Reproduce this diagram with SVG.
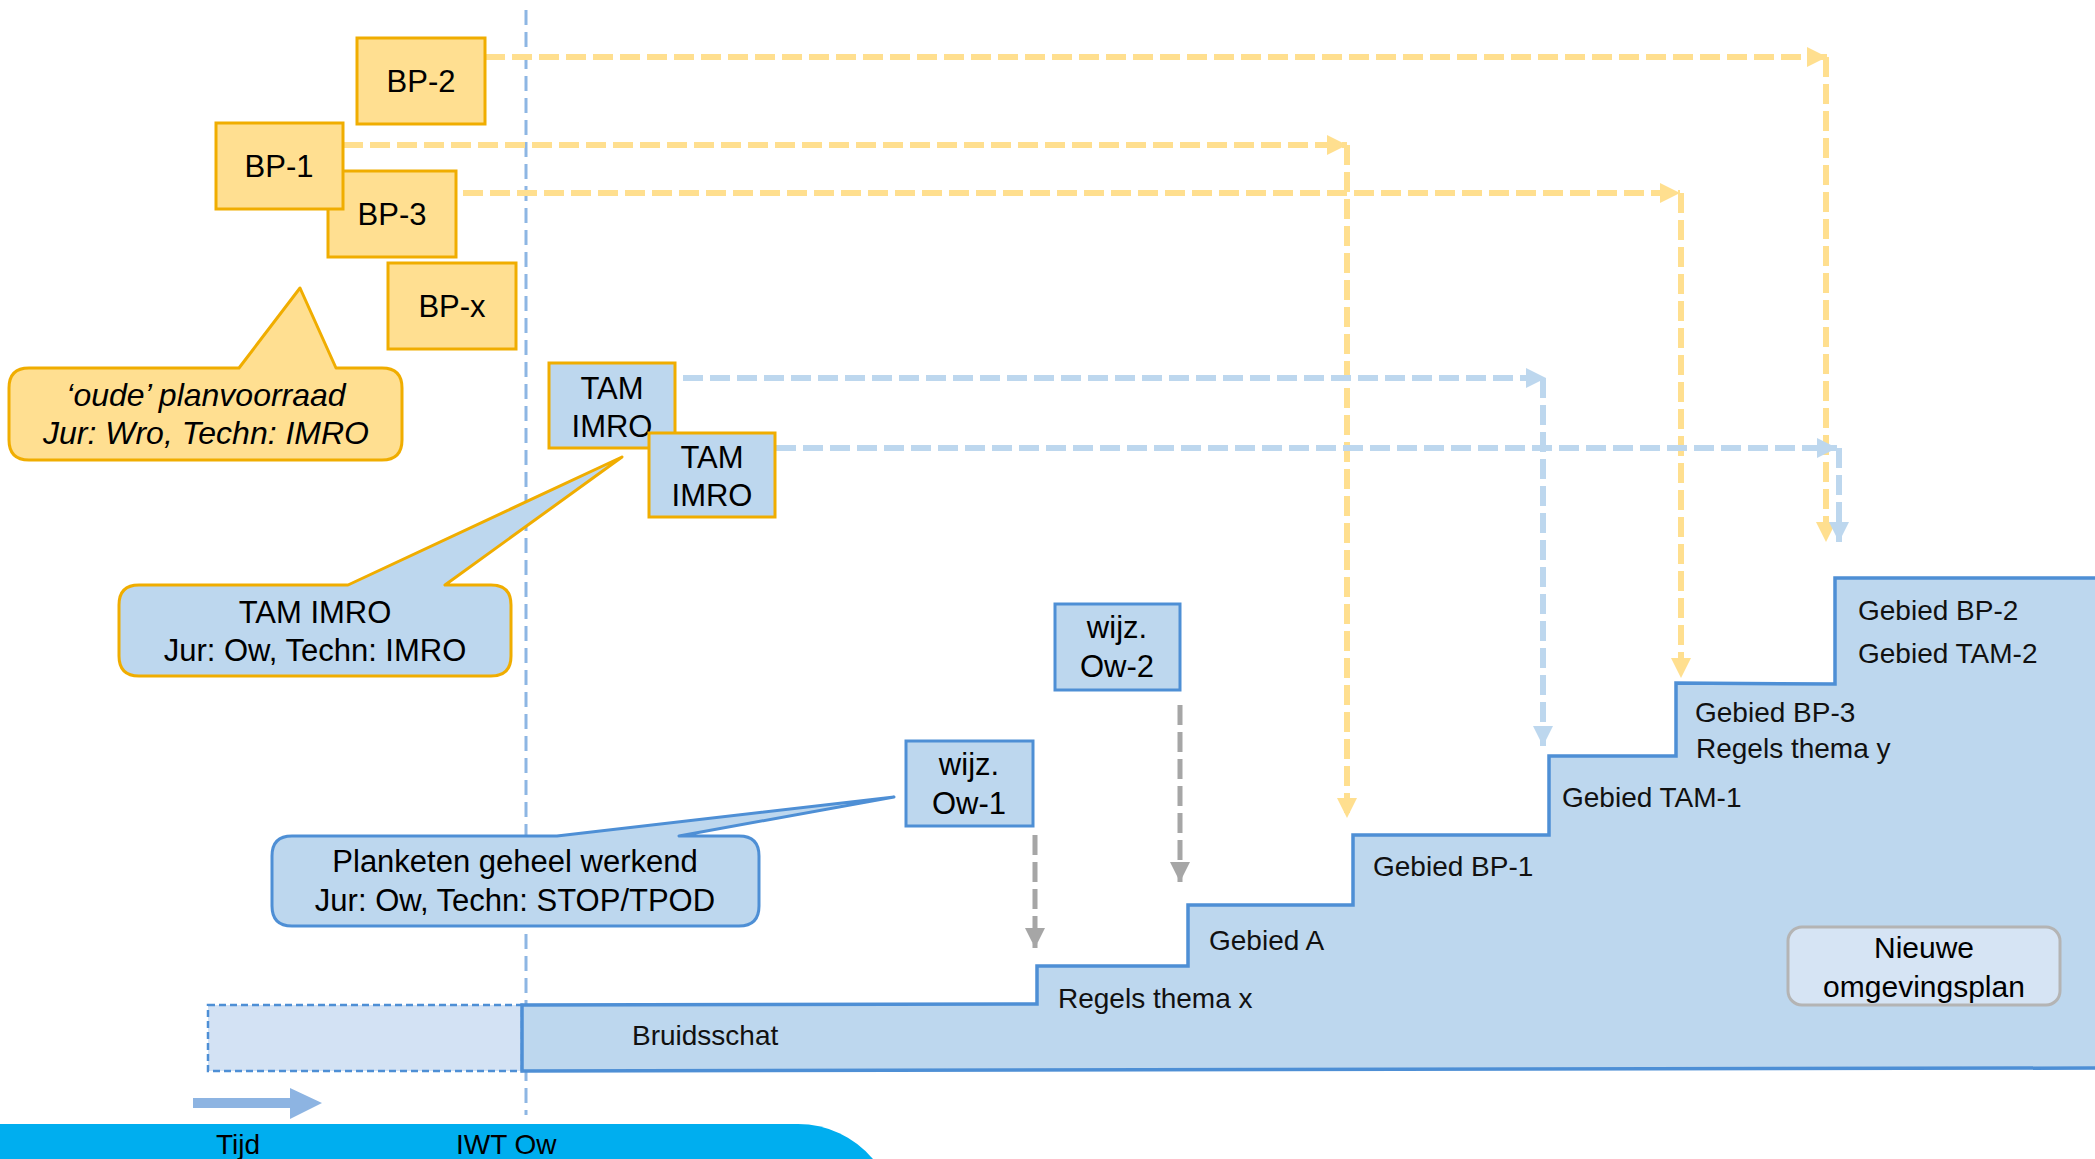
<svg xmlns="http://www.w3.org/2000/svg" width="2095" height="1159" viewBox="0 0 2095 1159">
<style>
text{font-family:"Liberation Sans",Arial,sans-serif;fill:#000}
.t31{font-size:31px;text-anchor:middle}
.t30{font-size:30px;text-anchor:middle}
.lbl{font-size:28px;fill:#111}
.bp{fill:#FFDF91;stroke:#F0AD00;stroke-width:3}
.tam{fill:#BDD7EE;stroke:#F0AD00;stroke-width:3}
.ow{fill:#BDD7EE;stroke:#4E8FD5;stroke-width:3}
.cy{fill:#FFDF91;stroke:#F0AD00;stroke-width:3;stroke-linejoin:round}
.cb{fill:#BDD7EE;stroke:#F0AD00;stroke-width:3;stroke-linejoin:round}
.cbb{fill:#BDD7EE;stroke:#4E8FD5;stroke-width:3;stroke-linejoin:round}
.dy{fill:none;stroke:#FFDF8F;stroke-width:6;stroke-dasharray:20 7}
.db{fill:none;stroke:#BDD7EE;stroke-width:6;stroke-dasharray:20 7}
.dg{fill:none;stroke:#A6A6A6;stroke-width:5;stroke-dasharray:20 7}
</style>
<defs>
<marker id="ay" viewBox="0 0 20 20" markerUnits="userSpaceOnUse" markerWidth="20" markerHeight="20" refX="20" refY="10" orient="auto"><path d="M0,0 L20,10 L0,20 Z" fill="#FFDF8F"/></marker>
<marker id="ab" viewBox="0 0 20 20" markerUnits="userSpaceOnUse" markerWidth="20" markerHeight="20" refX="20" refY="10" orient="auto"><path d="M0,0 L20,10 L0,20 Z" fill="#BDD7EE"/></marker>
<marker id="ag" viewBox="0 0 20 20" markerUnits="userSpaceOnUse" markerWidth="20" markerHeight="20" refX="20" refY="10" orient="auto"><path d="M0,0 L20,10 L0,20 Z" fill="#A6A6A6"/></marker>
</defs>

<!-- bottom band -->
<g id="timeline">
<path d="M0,1124 H798 A98 98 0 0 1 873 1159 H0 Z" fill="#00AEEF"/>
<text x="216" y="1154" style="font-size:28px">Tijd</text>
<text x="456" y="1154" style="font-size:28px">IWT Ow</text>
<path d="M193,1098 H290 V1088 L322,1103 L290,1119 V1108 H193 Z" fill="#8DB4E2"/>
</g>

<!-- IWT line -->
<line id="iwt-line" x1="526" y1="10" x2="526" y2="1115" stroke="#8DB6E3" stroke-width="3" stroke-dasharray="15 7"/>

<!-- staircase -->
<g id="staircase">
<rect x="208" y="1005" width="314" height="66" fill="#D3E2F4" stroke="#4E8FD5" stroke-width="2.5" stroke-dasharray="7 4"/>
<path d="M522,1005 L1037,1004 L1037,966 L1188,966 L1188,905 L1353,905 L1353,835 L1549,835 L1549,756 L1676,756 L1676,683 L1835,684 L1835,578 L2098,578 L2098,1068 L522,1071 Z" fill="#BDD7EE" stroke="#4E8FD5" stroke-width="3.5"/>
<text class="lbl" x="632" y="1045">Bruidsschat</text>
<text class="lbl" x="1058" y="1008">Regels thema x</text>
<text class="lbl" x="1209" y="950">Gebied A</text>
<text class="lbl" x="1373" y="876">Gebied BP-1</text>
<text class="lbl" x="1562" y="807">Gebied TAM-1</text>
<text class="lbl" x="1695" y="722">Gebied BP-3</text>
<text class="lbl" x="1696" y="758">Regels thema y</text>
<text class="lbl" x="1858" y="620">Gebied BP-2</text>
<text class="lbl" x="1858" y="663">Gebied TAM-2</text>
</g>

<g id="nieuwe">
<rect x="1788" y="927" width="272" height="78" rx="14" fill="#D6E4F4" stroke="#B4B4B4" stroke-width="3"/>
<text class="t30" x="1924" y="958">Nieuwe</text>
<text class="t30" x="1924" y="997">omgevingsplan</text>
</g>

<!-- connectors -->
<g id="connectors">
<path class="dy" d="M485,57 H1827" marker-end="url(#ay)"/>
<path class="dy" d="M1826,57 V542" marker-end="url(#ay)"/>
<path class="dy" d="M343,145 H1347" marker-end="url(#ay)"/>
<path class="dy" d="M1347,145 V818" marker-end="url(#ay)"/>
<path class="dy" d="M463,193 H1680" marker-end="url(#ay)"/>
<path class="dy" d="M1681,193 V678" marker-end="url(#ay)"/>
<path class="db" d="M683,378 H1546" marker-end="url(#ab)"/>
<path class="db" d="M1543,378 V746" marker-end="url(#ab)"/>
<path class="db" d="M776,448 H1837" marker-end="url(#ab)"/>
<path class="db" d="M1839,448 V542" marker-end="url(#ab)"/>
<path class="dg" d="M1035,835 V948" marker-end="url(#ag)"/>
<path class="dg" d="M1180,705 V882" marker-end="url(#ag)"/>
</g>

<!-- BP boxes -->
<g id="bp-2"><rect class="bp" x="357" y="38" width="128" height="86"/><text class="t31" x="421" y="92">BP-2</text></g>
<g id="bp-3"><rect class="bp" x="328" y="171" width="128" height="86"/><text class="t31" x="392" y="225">BP-3</text></g>
<g id="bp-1"><rect class="bp" x="216" y="123" width="127" height="86"/><text class="t31" x="279" y="177">BP-1</text></g>
<g id="bp-x"><rect class="bp" x="388" y="263" width="128" height="86"/><text class="t31" x="452" y="317">BP-x</text></g>

<!-- TAM boxes -->
<g id="tam-1"><rect class="tam" x="549" y="363" width="126" height="85"/><text class="t31" x="612" y="399">TAM</text><text class="t31" x="612" y="437">IMRO</text></g>
<g id="tam-2"><rect class="tam" x="649" y="433" width="126" height="84"/><text class="t31" x="712" y="468">TAM</text><text class="t31" x="712" y="506">IMRO</text></g>

<!-- wijz boxes -->
<g id="ow-1"><rect class="ow" x="906" y="741" width="127" height="85"/><text class="t31" x="969" y="775">wijz.</text><text class="t31" x="969" y="814">Ow-1</text></g>
<g id="ow-2"><rect class="ow" x="1055" y="604" width="125" height="86"/><text class="t31" x="1117" y="638">wijz.</text><text class="t31" x="1117" y="677">Ow-2</text></g>

<!-- callouts -->
<g id="callout-oude">
<path class="cy" d="M29,368 H239 L300,288 L336,368 H382 Q402,368 402,388 V440 Q402,460 382,460 H29 Q9,460 9,440 V388 Q9,368 29,368 Z"/>
<text class="t31" x="206" y="406" style="font-style:italic;font-size:32px">‘oude’ planvoorraad</text>
<text class="t31" x="206" y="444" style="font-style:italic;font-size:32px">Jur: Wro, Techn: IMRO</text>
</g>
<g id="callout-tam">
<path class="cb" d="M139,585 H348 L622,457 L445,585 H491 Q511,585 511,605 V656 Q511,676 491,676 H139 Q119,676 119,656 V605 Q119,585 139,585 Z"/>
<text class="t31" x="315" y="623">TAM IMRO</text>
<text class="t31" x="315" y="661">Jur: Ow, Techn: IMRO</text>
</g>
<g id="callout-planketen">
<path class="cbb" d="M292,836 H557 L894,797 L679,836 H739 Q759,836 759,856 V906 Q759,926 739,926 H292 Q272,926 272,906 V856 Q272,836 292,836 Z"/>
<text class="t31" x="515" y="872">Planketen geheel werkend</text>
<text class="t31" x="515" y="911">Jur: Ow, Techn: STOP/TPOD</text>
</g>
</svg>
